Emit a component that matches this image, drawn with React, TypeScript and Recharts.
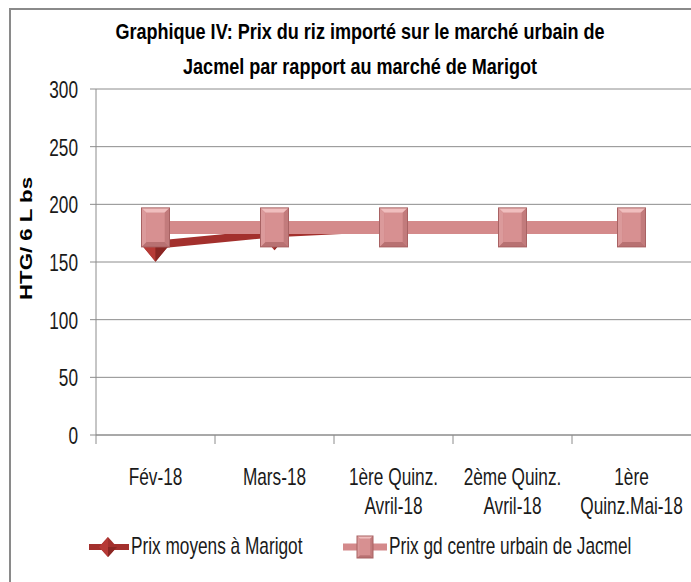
import React from "react";
import { LineChart, Line, XAxis, YAxis, CartesianGrid } from "recharts";

const categories: string[][] = [
  ["Fév-18"],
  ["Mars-18"],
  ["1ère Quinz.", "Avril-18"],
  ["2ème Quinz.", "Avril-18"],
  ["1ère", "Quinz.Mai-18"],
];
const marigot: number[] = [165, 175, 180, 180, 180];
const jacmel: number[] = [180, 180, 180, 180, 180];
const yTicks: number[] = [0, 50, 100, 150, 200, 250, 300];
const seriesNames = ["Prix moyens à Marigot", "Prix gd centre urbain de Jacmel"];
const titleLines = [
  "Graphique IV: Prix du riz importé sur le marché urbain de",
  "Jacmel par rapport au marché de Marigot",
];
const yLabel = "HTG/ 6 L bs";

const data = categories.map((c, i) => ({
  key: c.join(" "),
  lines: c,
  marigot: marigot[i],
  jacmel: jacmel[i],
}));

const FONT = "'Liberation Sans', Arial, sans-serif";
const SX = 0.75;
const FS = 23;
const DARK = "#A3302D";
const PINK = "#D48A8B";
const GRID = "#8C8C8C";
const TXT = "#1a1a1a";

const NText = (props: any) => {
  const { x, y, anchor = "start", size = FS, weight = "normal", children } = props;
  return (
    <g transform={`translate(${x},${y}) scale(${SX},1)`}>
      <text x={0} y={0} textAnchor={anchor} fontFamily={FONT} fontSize={size} fontWeight={weight} fill={TXT}>
        {children}
      </text>
    </g>
  );
};

const Diamond = (props: any) => {
  const { cx, cy, hw = 14, hh = 17 } = props;
  if (cx == null || cy == null) return null;
  return (
    <g>
      <polygon points={`${cx},${cy - hh} ${cx + hw},${cy} ${cx},${cy + hh} ${cx - hw},${cy}`} fill={DARK} />
      <polygon points={`${cx},${cy - hh} ${cx},${cy + hh} ${cx - hw},${cy}`} fill="#B63A36" />
      <polygon points={`${cx},${cy} ${cx + hw},${cy} ${cx},${cy + hh}`} fill="#8A2623" />
    </g>
  );
};

const Square = (props: any) => {
  const { cx, cy, hw = 14, hh = 19.5 } = props;
  if (cx == null || cy == null) return null;
  const b = Math.min(hw, hh) * 0.35;
  const x0 = cx - hw, x1 = cx + hw, y0 = cy - hh, y1 = cy + hh;
  return (
    <g>
      <rect x={x0} y={y0} width={hw * 2} height={hh * 2} fill="#CC8384" />
      <polygon points={`${x0},${y0} ${x1},${y0} ${x1 - b},${y0 + b} ${x0 + b},${y0 + b}`} fill="#F0BEBE" />
      <polygon points={`${x0},${y1} ${x1},${y1} ${x1 - b},${y1 - b} ${x0 + b},${y1 - b}`} fill="#B87172" />
      <polygon points={`${x0},${y0} ${x0 + b},${y0 + b} ${x0 + b},${y1 - b} ${x0},${y1}`} fill="#DB9A9B" />
      <polygon points={`${x1},${y0} ${x1 - b},${y0 + b} ${x1 - b},${y1 - b} ${x1},${y1}`} fill="#C27B7C" />
      <rect x={x0 + b} y={y0 + b} width={hw * 2 - 2 * b} height={hh * 2 - 2 * b} fill="#D79091" />
      <rect x={x0} y={y0} width={hw * 2} height={hh * 2} fill="none" stroke="#A86263" strokeWidth={1} />
    </g>
  );
};

const XTick = (props: any) => {
  const { x, y, payload, index, visibleTicksCount, width } = props;
  const half = payload && payload.offset ? payload.offset : width / visibleTicksCount / 2;
  const lines: string[] = data[index] ? data[index].lines : [String(payload.value)];
  const axisY = y;
  return (
    <g>
      {index === 0 && <line x1={x - half} x2={x - half} y1={axisY} y2={axisY + 9} stroke={GRID} />}
      {index < visibleTicksCount - 1 && (
        <line x1={x + half} x2={x + half} y1={axisY} y2={axisY + 9} stroke={GRID} />
      )}
      {lines.map((t, i) => (
        <NText key={i} x={x} y={axisY + 50 + i * 29} anchor="middle">
          {t}
        </NText>
      ))}
    </g>
  );
};

const YTick = (props: any) => {
  const { x, y, payload } = props;
  return (
    <NText x={x} y={y + 9} anchor="end">
      {payload.value}
    </NText>
  );
};

const YLabel = (props: any) => {
  const vb = props.viewBox || {};
  const cx = 27;
  const cy = (vb.y ?? 89) + (vb.height ?? 346) * 0.432;
  return (
    <text
      x={cx}
      y={cy}
      transform={`rotate(-90 ${cx} ${cy})`}
      textAnchor="middle"
      dominantBaseline="central"
      fontFamily="'Liberation Sans', Arial, sans-serif"
      fontWeight="bold"
      fontSize={17}
      textLength={123}
      lengthAdjust="spacingAndGlyphs"
      fill="#000"
    >
      {yLabel}
    </text>
  );
};

const LegendBox = () => (
  <svg width={691} height={40} style={{ display: "block" }}>
    <line x1={89} x2={129} y1={20} y2={20} stroke={DARK} strokeWidth={6} />
    <Diamond cx={108} cy={20} hw={9} hh={10} />
    <NText x={131} y={27}>{seriesNames[0]}</NText>
    <line x1={343} x2={387} y1={20} y2={20} stroke={PINK} strokeWidth={7} />
    <Square cx={365} cy={20} hw={8} hh={11} />
    <NText x={389} y={27}>{seriesNames[1]}</NText>
  </svg>
);

export default function App() {
  return (
    <div
      style={{
        position: "absolute",
        left: 0,
        top: 0,
        width: 691,
        height: 582,
        overflow: "hidden",
        background: "#fff",
      }}
    >
      <div
        style={{
          position: "absolute",
          left: 9,
          top: 8,
          width: 720,
          height: 620,
          borderTop: "2px solid #8a8a8a",
          borderLeft: "2px solid #8a8a8a",
        }}
      />
      <div
        style={{
          position: "absolute",
          left: 0,
          top: 14,
          width: 720,
          textAlign: "center",
          fontFamily: FONT,
          fontWeight: "bold",
          fontSize: 22,
          lineHeight: "35px",
          color: "#000",
          transform: `scale(0.82,1)`,
          transformOrigin: "360px 0",
        }}
      >
        {titleLines.map((t, i) => (
          <div key={i}>{t}</div>
        ))}
      </div>
      <div style={{ position: "absolute", left: 0, top: 0 }}>
        <LineChart
          width={691}
          height={582}
          data={data}
          margin={{ top: 89, right: 0, bottom: 80, left: 36 }}
        >
          <CartesianGrid vertical={false} stroke={GRID} strokeWidth={1} />
          <XAxis
            dataKey="key"
            scale="band"
            interval={0}
            height={67}
            tickLine={false}
            tickSize={0}
            tickMargin={0}
            axisLine={{ stroke: GRID }}
            tick={<XTick />}
          />
          <YAxis
            width={60}
            domain={[0, 300]}
            ticks={yTicks}
            interval={0}
            tickSize={6}
            tickMargin={12}
            axisLine={{ stroke: GRID }}
            tickLine={{ stroke: GRID }}
            tick={<YTick />}
            label={<YLabel />}
          />
          <Line
            type="linear"
            dataKey="marigot"
            name={seriesNames[0]}
            stroke={DARK}
            strokeWidth={8}
            dot={<Diamond />}
            activeDot={false}
            isAnimationActive={false}
          />
          <Line
            type="linear"
            dataKey="jacmel"
            name={seriesNames[1]}
            stroke={PINK}
            strokeWidth={13}
            dot={<Square />}
            activeDot={false}
            isAnimationActive={false}
          />
        </LineChart>
      </div>
      <div style={{ position: "absolute", left: 0, top: 527 }}>
        <LegendBox />
      </div>
    </div>
  );
}
